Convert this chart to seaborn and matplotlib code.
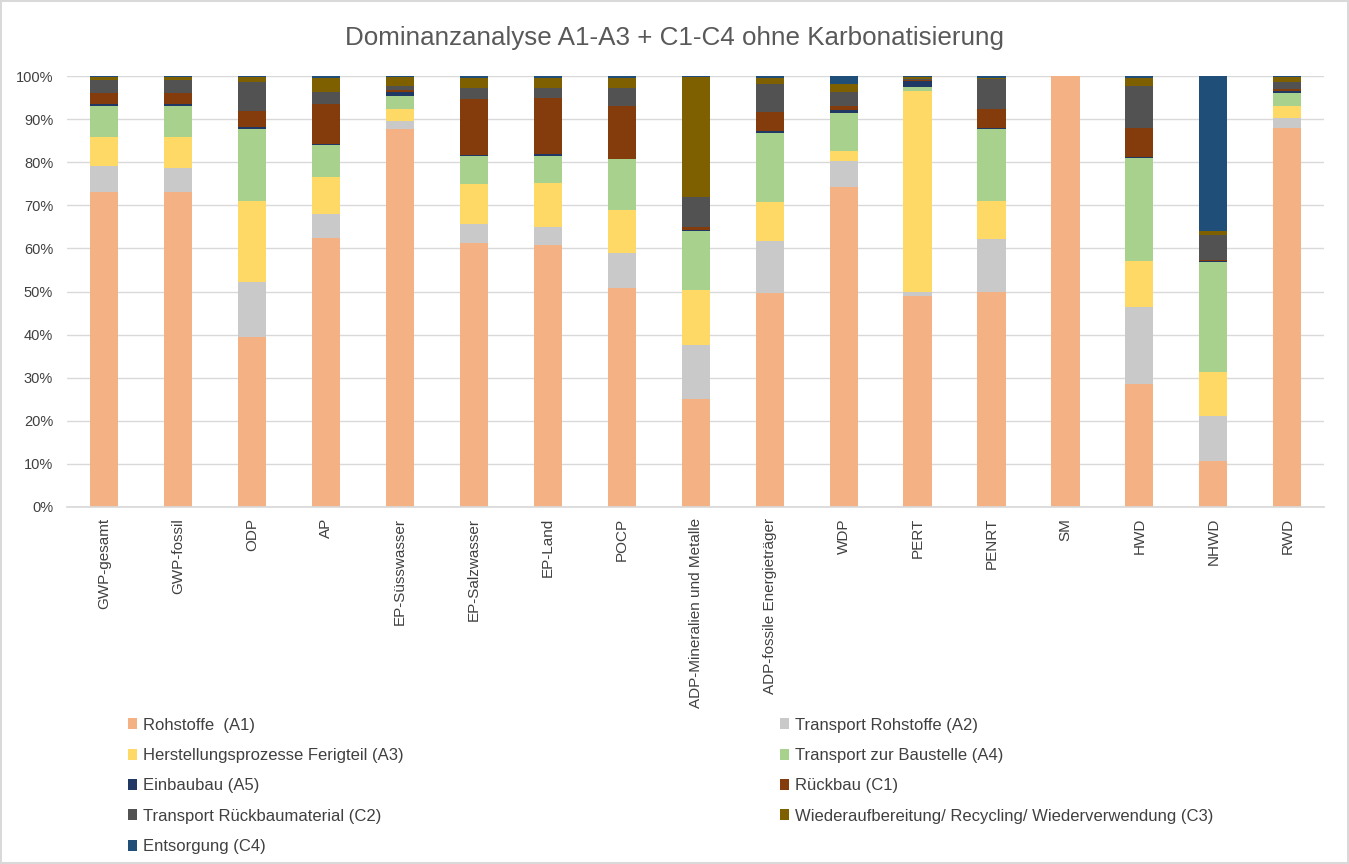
import numpy as np
import pandas as pd
import seaborn as sns
import matplotlib.pyplot as plt
from matplotlib.patches import Patch
from matplotlib.ticker import PercentFormatter

# Indikatoren (x-Achse)
kategorien = ['GWP-gesamt', 'GWP-fossil', 'ODP', 'AP', 'EP-Süsswasser', 'EP-Salzwasser',
              'EP-Land', 'POCP', 'ADP-Mineralien und Metalle', 'ADP-fossile Energieträger',
              'WDP', 'PERT', 'PENRT', 'SM', 'HWD', 'NHWD', 'RWD']

# Anteile je Modul in %
a1 = [73.0, 73.0, 39.4, 62.5, 87.7, 61.2, 60.8, 50.9, 25.0, 49.6, 74.2, 49.0, 50.0, 100.0, 28.5, 10.7, 88.0]
a2 = [6.1, 5.7, 12.8, 5.4, 1.9, 4.5, 4.2, 8.1, 12.5, 12.1, 6.1, 1.0, 12.1, 0.0, 17.9, 10.5, 2.3]
a3 = [6.7, 7.1, 18.9, 8.7, 2.8, 9.2, 10.2, 9.8, 12.8, 9.0, 2.3, 46.6, 9.0, 0.0, 10.6, 10.2, 2.8]
a4 = [7.3, 7.3, 16.5, 7.3, 2.9, 6.6, 6.3, 11.9, 13.7, 16.0, 8.8, 0.9, 16.5, 0.0, 23.9, 25.5, 2.9]
a5 = [0.3, 0.3, 0.6, 0.3, 1.1, 0.2, 0.4, 0.1, 0.3, 0.6, 0.7, 1.4, 0.4, 0.0, 0.4, 0.2, 0.6]
c1 = [2.6, 2.6, 3.7, 9.2, 0.3, 12.9, 13.1, 12.3, 0.7, 4.4, 1.0, 0.2, 4.4, 0.0, 6.7, 0.1, 0.4]
c2 = [3.1, 3.1, 6.6, 3.0, 1.1, 2.6, 2.2, 4.1, 7.0, 6.4, 3.2, 0.3, 6.8, 0.0, 9.8, 5.9, 1.5]
c3 = [0.7, 0.7, 1.3, 3.1, 2.0, 2.3, 2.3, 2.3, 27.8, 1.4, 1.8, 0.4, 0.4, 0.0, 1.7, 0.9, 1.3]
c4 = [0.2, 0.2, 0.2, 0.5, 0.2, 0.5, 0.5, 0.5, 0.2, 0.5, 1.9, 0.2, 0.4, 0.0, 0.5, 36.0, 0.2]

module = ['Rohstoffe  (A1)', 'Transport Rohstoffe (A2)', 'Herstellungsprozesse Ferigteil (A3)',
          'Transport zur Baustelle (A4)', 'Einbaubau (A5)', 'Rückbau (C1)',
          'Transport Rückbaumaterial (C2)', 'Wiederaufbereitung/ Recycling/ Wiederverwendung (C3)',
          'Entsorgung (C4)']
farben = ['#F4B183', '#C9C9C9', '#FFD966', '#A9D18E', '#203864', '#843C0C',
          '#525252', '#7F6000', '#1F4E79']

df = pd.DataFrame(np.array([a1, a2, a3, a4, a5, c1, c2, c3, c4]).T / 100,
                  columns=module, index=kategorien)

sns.set_theme(style='white')
plt.rcParams['font.family'] = ['Liberation Sans Narrow', 'Liberation Sans', 'DejaVu Sans']

fig = plt.figure(figsize=(13.49, 8.64), dpi=100)
fig.patch.set_edgecolor('#D9D9D9')
fig.patch.set_linewidth(1.5)
ax = fig.add_axes([0.0497, 0.4132, 0.932, 0.4988])

# gestapelte Balken: kumulierte Summen von oben nach unten übereinander zeichnen
kum = df.cumsum(axis=1)
for i in range(len(module) - 1, -1, -1):
    sns.barplot(x=kategorien, y=kum.iloc[:, i].values, color=farben[i], saturation=1,
                width=0.38, linewidth=0, errorbar=None, ax=ax)

ax.set_ylim(0, 1)
ax.set_yticks(np.arange(0, 1.01, 0.1))
ax.yaxis.set_major_formatter(PercentFormatter(1, decimals=0))
ax.grid(axis='y', color='#D9D9D9', linewidth=1)
ax.set_axisbelow(True)
for s in ['left', 'right', 'top']:
    ax.spines[s].set_visible(False)
ax.spines['bottom'].set_color('#D9D9D9')
ax.tick_params(axis='y', length=0, labelsize=10.5, colors='#404040', pad=10)
ax.tick_params(axis='x', length=0, labelsize=11, colors='#404040', pad=8, labelrotation=90)
ax.set_xlabel('')
ax.set_ylabel('')

fig.text(0.5, 0.956, 'Dominanzanalyse A1-A3 + C1-C4 ohne Karbonatisierung',
         ha='center', va='center', fontsize=18.7, color='#595959')

# Legende in zwei Spalten
links = [0, 2, 4, 6, 8]
rechts = [1, 3, 5, 7]
for idx, xpos in [(links, 0.090), (rechts, 0.573)]:
    handles = [Patch(facecolor=farben[i], edgecolor='none', label=module[i]) for i in idx]
    leg = fig.legend(handles=handles, loc='upper left', bbox_to_anchor=(xpos, 0.177),
                     frameon=False, fontsize=12, labelspacing=0.92, handlelength=0.55,
                     handleheight=0.65, handletextpad=0.35, borderaxespad=0)
    for t in leg.get_texts():
        t.set_color('#404040')

fig.savefig('out.png', dpi=100)
